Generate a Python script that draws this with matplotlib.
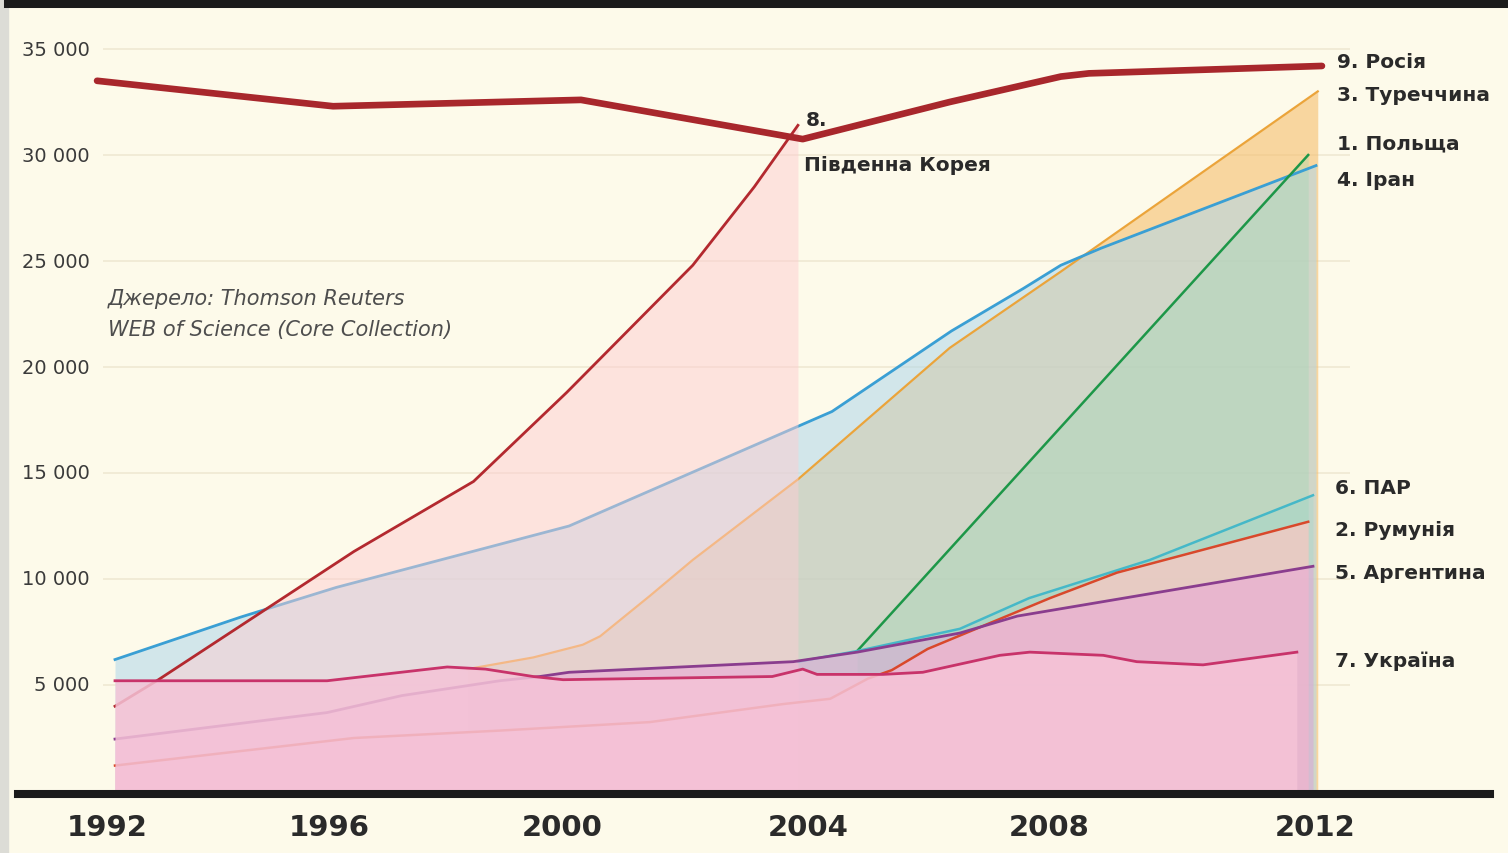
import matplotlib
matplotlib.use("Agg")
import matplotlib.pyplot as plt
from matplotlib.lines import Line2D
from matplotlib.patches import Rectangle

W, H = 1508, 854
BG = "#fdfaea"

# publications per year
russia_x = [1991.7, 1995.65, 1999.8, 2003.51, 2005.97, 2007.83, 2008.3, 2012.2]
russia_y = [33500, 32300, 32600, 30750, 32500, 33700, 33850, 34200]

korea_x = [1992, 1992.7, 1996, 1998, 1999.56, 2001.67, 2002.7, 2003.43]
korea_y = [4000, 5200, 11300, 14600, 18800, 24800, 28500, 31400]

iran_x = [1992, 1994.1, 1995.7, 1999.6, 2003.43, 2004, 2006, 2007.2, 2007.83, 2008.5, 2012.1]
iran_y = [6200, 8200, 9600, 12500, 17200, 17900, 21700, 23700, 24800, 25600, 29500]

turkey_x = [1997.9, 1999.0, 1999.83, 2000.12, 2000.95, 2001.67, 2003.43, 2005.97, 2007.83, 2012.13]
turkey_y = [5750, 6300, 6900, 7300, 9200, 10900, 14700, 20900, 24500, 33000]

poland_x = [2004.42, 2011.97]
poland_y = [6600, 30000]

sa_x = [2003.43, 2004.42, 2006.14, 2007.3, 2009.32, 2012.05]
sa_y = [6100, 6600, 7650, 9100, 10900, 13950]

romania_x = [1992, 1996, 1998.44, 2000.95, 2003.18, 2003.97, 2004.6, 2005.0, 2005.6, 2007.65, 2008.77, 2011.97]
romania_y = [1200, 2500, 2850, 3250, 4100, 4350, 5300, 5700, 6700, 9100, 10300, 12700]

argentina_x = [1992, 1995.55, 1996.8, 1998.44, 1999.11, 1999.6, 2003.35, 2004.42, 2006.14, 2007.1, 2012.05]
argentina_y = [2450, 3700, 4500, 5200, 5400, 5600, 6100, 6550, 7450, 8250, 10600]

ukraine_x = [1992, 1995.55, 1997.56, 1998.2, 1999.0, 1999.5, 2003.0, 2003.51, 2003.75,
             2004.85, 2005.52, 2006.81, 2007.31, 2008.54, 2009.1, 2010.21, 2011.78]
ukraine_y = [5200, 5200, 5850, 5750, 5400, 5250, 5400, 5750, 5500,
             5500, 5600, 6400, 6550, 6400, 6100, 5950, 6550]

grid_vals = [5000, 10000, 15000, 20000, 25000, 30000, 35000]
grid_labels = ["5 000", "10 000", "15 000", "20 000", "25 000", "30 000", "35 000"]
year_labels = ["1992", "1996", "2000", "2004", "2008", "2012"]
year_pos = [1991.87, 1995.58, 1999.48, 2003.60, 2007.63, 2012.08]

right_labels = ["9. Росія", "3. Туреччина", "1. Польща", "4. Іран",
                "6. ПАР", "2. Румунія", "5. Аргентина", "7. Україна"]
right_label_px = [(1337, 68), (1337, 101), (1337, 149), (1337, 186),
                  (1335, 494), (1335, 536), (1335, 579), (1335, 667)]


def fxy(px, py):
    # picture pixels -> figure fraction
    return px / W, 1 - py / H


fig = plt.figure(figsize=(W / 100, H / 100), dpi=100, facecolor=BG)
ax = fig.add_axes([0, 0, 1, 1])
ax.set_facecolor(BG)
ax.set_xlim(1992 - 115 / 59.75, 1992 + (W - 115) / 59.75)
ax.set_ylim((792 - H) / 21.2 * 1000, 792 / 21.2 * 1000)
ax.axis("off")

# grid
ax.hlines(grid_vals, 1991.8, 2012.67, color="#efe9d3", lw=1.2, zorder=0)

# fills, bottom to top
ax.fill_between(turkey_x, 0, turkey_y, color="#f5be6e", alpha=0.6, lw=0, zorder=1)
ax.fill_between(iran_x, 0, iran_y, color="#afd7eb", alpha=0.55, lw=0, zorder=1.1)
ax.fill_between(poland_x, 0, poland_y, color="#96d7af", alpha=0.3, lw=0, zorder=1.2)
ax.fill_between(sa_x, 0, sa_y, color="#78d7d7", alpha=0.2, lw=0, zorder=1.3)
ax.fill_between(romania_x, 0, romania_y, color="#fac8c3", alpha=0.75, lw=0, zorder=1.4)

# lines under the pink layers
ax.plot(turkey_x, turkey_y, color="#eba43a", lw=1.6, zorder=2)
ax.plot(iran_x, iran_y, color="#3a9fd4", lw=2.0, zorder=2)
ax.plot(poland_x, poland_y, color="#1d9748", lw=1.8, zorder=2)
ax.plot(sa_x, sa_y, color="#45b8c8", lw=1.8, zorder=2)

ax.fill_between(korea_x, 0, korea_y, color="#fdcdd2", alpha=0.5, lw=0, zorder=3)
ax.fill_between(argentina_x, 0, argentina_y, color="#e9a3d9", alpha=0.5, lw=0, zorder=3.2)
ax.plot(romania_x, romania_y, color="#d9482b", lw=1.8, zorder=3.3)
ax.plot(argentina_x, argentina_y, color="#8a3d8e", lw=2.0, zorder=3.4)
ax.plot(korea_x, korea_y, color="#b3292f", lw=2.0, zorder=3.5)

ax.fill_between(ukraine_x, 0, ukraine_y, color="#f5c3d7", alpha=0.85, lw=0, zorder=4)
ax.plot(ukraine_x, ukraine_y, color="#c8336a", lw=2.0, zorder=4.5)

ax.plot(russia_x, russia_y, color="#a8272c", lw=4.8, solid_capstyle="round", zorder=5)

# frame bars
fig.add_artist(Rectangle((0, 0), 8 / W, 1, transform=fig.transFigure,
                         color="#dcdcd6", zorder=10))
fig.add_artist(Line2D([8 / W, 1], [1 - 4 / H] * 2, color="#1b1b1b", lw=6.5, zorder=10))
fig.add_artist(Line2D([18 / W, 1490 / W], [1 - 795 / H] * 2, color="#1b1b1b",
                      lw=5.8, zorder=10))

# y labels
for v, lab in zip(grid_vals, grid_labels):
    py = 792 - v / 1000 * 21.2
    fig.text(*fxy(90, py), lab, ha="right", va="center", fontsize=14,
             color="#3a3a3a")

# year labels
for xp, lab in zip(year_pos, year_labels):
    ax.text(xp, (792 - 828.5) / 21.2 * 1000, lab, ha="center", va="center",
            fontsize=21, fontweight="bold", color="#2a2a2a")

for lab, (px, py) in zip(right_labels, right_label_px):
    fig.text(*fxy(px, py), lab, ha="left", va="baseline", fontsize=14.5,
             fontweight="bold", color="#2a2a2a")

fig.text(*fxy(806, 126), "8.", ha="left", va="baseline", fontsize=14.5,
         fontweight="bold", color="#2a2a2a")
fig.text(*fxy(804, 171), "Південна Корея", ha="left", va="baseline", fontsize=14.5,
         fontweight="bold", color="#2a2a2a")

fig.text(*fxy(108, 305), "Джерело: Thomson Reuters", ha="left", va="baseline",
         fontsize=15, style="italic", color="#4e4e4e")
fig.text(*fxy(108, 336), "WEB of Science (Core Collection)", ha="left", va="baseline",
         fontsize=15, style="italic", color="#4e4e4e")

fig.savefig("out.png", dpi=100, facecolor=BG)
